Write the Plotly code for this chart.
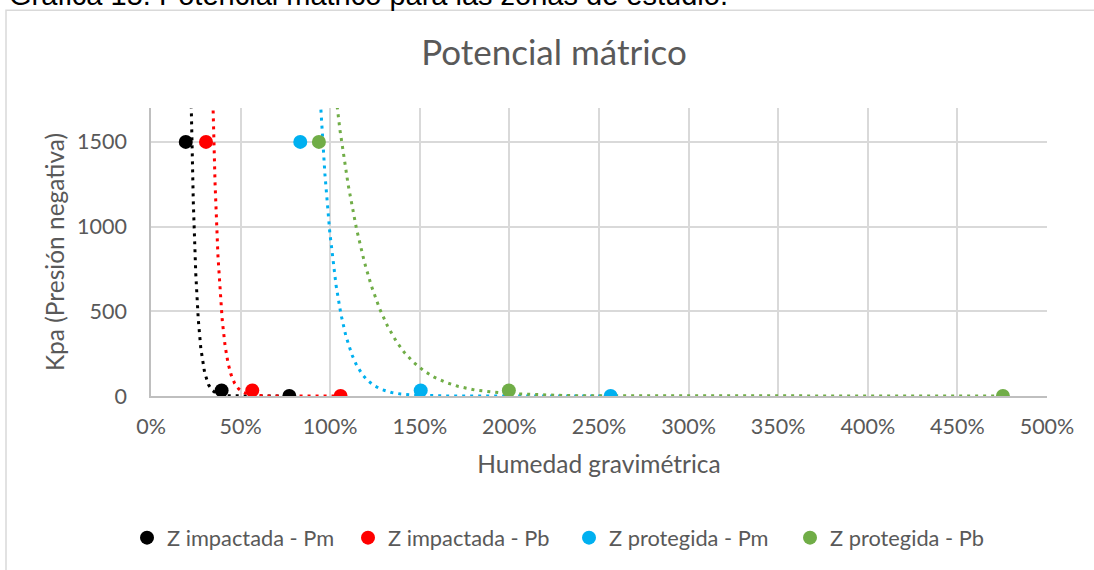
import numpy as np
import plotly.graph_objects as go

# ---- data (humedad gravimétrica as fraction, potencial in kPa) ----
series_names = ["Z impactada - Pm", "Z impactada - Pb", "Z protegida - Pm", "Z protegida - Pb"]
series_colors = ["#000000", "#FF0000", "#00B0F0", "#70AD47"]
x_imp_pm = [0.194, 0.394, 0.772]
y_imp_pm = [1500, 33, 0.00001]
x_imp_pb = [0.307, 0.565, 1.058]
y_imp_pb = [1500, 33, 0.00001]
x_pro_pm = [0.833, 1.505, 2.565]
y_pro_pm = [1500, 33, 0.00001]
x_pro_pb = [0.937, 1.997, 4.754]
y_pro_pb = [1500, 33, 0.00001]
x_ticks = [0, 0.5, 1, 1.5, 2, 2.5, 3, 3.5, 4, 4.5, 5]
y_ticks = [0, 500, 1000, 1500]

xs = [x_imp_pm, x_imp_pb, x_pro_pm, x_pro_pb]
ys = [y_imp_pm, y_imp_pb, y_pro_pm, y_pro_pb]

W, H = 1094, 570
ML, MR, MT, MB = 151, 47, 108, 173
PW, PH = W - ML - MR, H - MT - MB

def px(xp):
    return (xp - ML) / PW

def py(yp):
    return (H - MB - yp) / PH

FONT = "Lato"
GREY = "#595959"

fig = go.Figure()

# exponential trendlines (least squares on ln y, like Excel)
for x, y, c in zip(xs, ys, series_colors):
    b, lna = np.polyfit(np.array(x), np.log(np.array(y)), 1)
    xt = np.linspace(min(x), max(x), 3000)
    yt = np.exp(lna + b * xt)
    fig.add_trace(go.Scatter(x=xt, y=yt, mode="lines", showlegend=False, hoverinfo="skip",
                             line=dict(color=c, width=3, dash="3px,5px")))

for x, y, c, n in zip(xs, ys, series_colors, series_names):
    fig.add_trace(go.Scatter(x=x, y=y, mode="markers", name=n,
                             marker=dict(color=c, size=14, line=dict(width=0))))

fig.update_layout(
    width=W, height=H,
    margin=dict(l=ML, r=MR, t=MT, b=MB),
    paper_bgcolor="white", plot_bgcolor="white",
    font=dict(family=FONT, color=GREY, size=20),
    title=dict(text="Potencial mátrico", x=554 / W, xanchor="center", y=1 - 53 / H, yanchor="middle",
               font=dict(family=FONT, size=35, color=GREY)),
    xaxis=dict(range=[0, 5], tickvals=x_ticks, tickformat=".0%", showgrid=True, gridcolor="#D9D9D9",
               gridwidth=1.5, showline=True, linecolor="#BFBFBF", linewidth=1.5, zeroline=False,
               ticks="", ticklabelstandoff=10, tickfont=dict(size=21.5, color=GREY),
               title=dict(text="Humedad gravimétrica", standoff=18, font=dict(size=24.5, color=GREY))),
    yaxis=dict(range=[0, 1700], tickvals=y_ticks, showgrid=True, gridcolor="#D9D9D9", gridwidth=1.5,
               showline=True, linecolor="#BFBFBF", linewidth=1.5, zeroline=False,
               ticks="", ticklabelstandoff=18, tickfont=dict(size=21.5, color=GREY),
               title=dict(text="Kpa (Presión negativa)", standoff=5, font=dict(size=24.5, color=GREY))),
    legend=dict(orientation="h", x=px(569), xanchor="center", y=py(538), yanchor="middle",
                font=dict(size=21.8, color=GREY), entrywidth=176, entrywidthmode="pixels",
                itemsizing="trace", bgcolor="rgba(0,0,0,0)"),
    showlegend=True,
)

# outer chart border (like Excel chart area)
fig.add_shape(type="rect", xref="paper", yref="paper",
              x0=px(6), x1=px(1102), y0=py(582), y1=py(10),
              line=dict(color="#D9D9D9", width=1.5), fillcolor="rgba(0,0,0,0)", layer="below")

# document caption cut at top
fig.add_annotation(text="Gráfica 15. Potencial mátrico para las zonas de estudio.",
                   xref="paper", yref="paper", x=px(7), y=py(13), xanchor="left", yanchor="bottom",
                   showarrow=False, font=dict(family="Liberation Sans", size=29, color="#000000"))

fig.write_html("out.html")
